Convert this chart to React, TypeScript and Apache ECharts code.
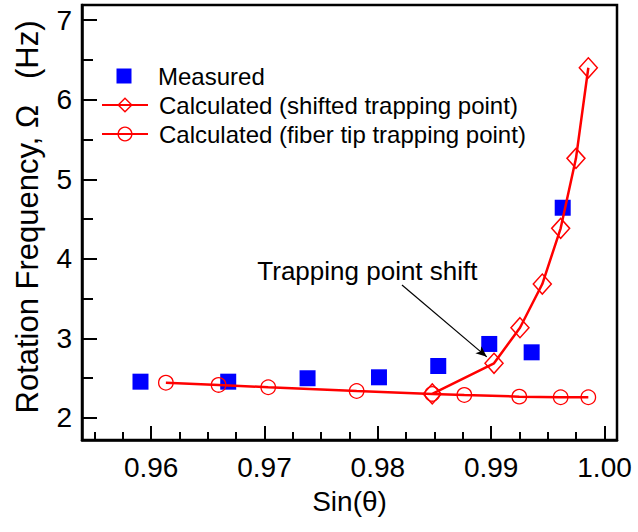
import React, { useEffect, useRef } from 'react';
import * as echarts from 'echarts';

const FONT = '"Liberation Sans", Arial, sans-serif';

// Measured data
const measuredX = [0.95906, 0.9668, 0.9738, 0.9801, 0.98533, 0.98983, 0.99357, 0.99631];
const measuredY = [2.456, 2.456, 2.499, 2.511, 2.653, 2.93, 2.825, 4.642];
// Calculated (shifted trapping point)
const shiftedX = [0.9848, 0.99025, 0.99254, 0.99451, 0.99613, 0.99748, 0.99857];
const shiftedY = [2.302, 2.687, 3.134, 3.683, 4.383, 5.263, 6.401];
// Calculated (fiber tip trapping point)
const fiberX = [0.9613, 0.96595, 0.97033, 0.97813, 0.9848, 0.98763, 0.99248, 0.99613, 0.99857];
const fiberY = [2.443, 2.415, 2.386, 2.339, 2.302, 2.289, 2.268, 2.26, 2.26];

const xMajorTicks = [0.96, 0.97, 0.98, 0.99, 1.0];
const xMinorTicks = [0.955, 0.9575, 0.9625, 0.965, 0.9675, 0.9725, 0.975, 0.9775, 0.9825, 0.985, 0.9875, 0.9925, 0.995, 0.9975];
const yMajorTicks = [2, 3, 4, 5, 6, 7];
const yMinorTicks = [2.5, 3.5, 4.5, 5.5, 6.5];

const X_MIN = 0.9539;
const X_MAX = 1.0011;
const Y_MIN = 1.723;
const Y_MAX = 7.19;

const seriesNames = ['Measured', 'Calculated (shifted trapping point)', 'Calculated (fiber tip trapping point)'];
const xName = 'Sin(θ)';
const yName = 'Rotation Frequency, Ω   (Hz)';
const annotationText = 'Trapping point shift';
const annotationAt = [0.97908, 3.847];
const arrowStart = [0.98213, 3.671];
const arrowEnd = [0.98961, 2.768];

export default function App() {
  const ref = useRef<HTMLDivElement>(null);
  useEffect(() => {
    document.body.style.margin = '0';
    const chart = echarts.init(ref.current!, undefined, { renderer: 'svg' });
    const tickStyle = { color: '#000', width: 2 };
    const legendText = { fontSize: 24, color: '#000', fontFamily: FONT, padding: [0, 0, 0, 6] };
    chart.setOption({
      animation: false,
      backgroundColor: '#fff',
      grid: {
        left: 82, right: 21, top: 5, bottom: 92,
        show: true, borderColor: '#000', borderWidth: 2.5, backgroundColor: 'transparent',
        outerBoundsMode: 'none',
      },
      xAxis: [
        {
          type: 'value', min: X_MIN, max: X_MAX, position: 'bottom',
          axisLine: { show: true, lineStyle: { color: '#000', width: 2.5 } },
          axisTick: { show: true, inside: true, length: 14, lineStyle: tickStyle, customValues: xMajorTicks },
          axisLabel: {
            show: true, customValues: xMajorTicks, margin: 13, fontSize: 28, color: '#000', fontFamily: FONT,
            formatter: (v: number) => v.toFixed(2),
          },
          splitLine: { show: false },
          name: xName, nameLocation: 'middle', nameGap: 47,
          nameTextStyle: { fontSize: 28, color: '#000', fontFamily: FONT },
        },
        {
          type: 'value', min: X_MIN, max: X_MAX, position: 'bottom',
          axisLine: { show: false },
          axisTick: { show: true, inside: true, length: 8, lineStyle: tickStyle, customValues: xMinorTicks },
          axisLabel: { show: false },
          splitLine: { show: false },
        },
      ],
      yAxis: [
        {
          type: 'value', min: Y_MIN, max: Y_MAX, position: 'left',
          axisLine: { show: true, lineStyle: { color: '#000', width: 2.5 } },
          axisTick: { show: true, inside: true, length: 15, lineStyle: tickStyle, customValues: yMajorTicks },
          axisLabel: {
            show: true, customValues: yMajorTicks, margin: 10, fontSize: 28, color: '#000', fontFamily: FONT,
            formatter: (v: number) => String(Math.round(v)),
          },
          splitLine: { show: false },
        },
        {
          type: 'value', min: Y_MIN, max: Y_MAX, position: 'left',
          axisLine: { show: false },
          axisTick: { show: true, inside: true, length: 11, lineStyle: tickStyle, customValues: yMinorTicks },
          axisLabel: { show: false },
          splitLine: { show: false },
        },
      ],
      legend: [
        {
          data: [{ name: seriesNames[0], icon: 'rect' }],
          left: 116.5, top: 64, padding: 0, itemWidth: 15, itemHeight: 15, selectedMode: false,
          textStyle: { ...legendText, padding: [0, 0, 0, 21.5] },
        },
        {
          data: [seriesNames[1]],
          left: 101, top: 93, padding: 0, itemWidth: 46, itemHeight: 17, selectedMode: false,
          itemStyle: { borderWidth: 1.4 },
          textStyle: legendText,
        },
        {
          data: [seriesNames[2]],
          left: 101, top: 122, padding: 0, itemWidth: 46, itemHeight: 17, selectedMode: false,
          itemStyle: { borderWidth: 1.4 },
          textStyle: legendText,
        },
      ],
      graphic: [
        {
          type: 'text', x: 27, y: 217, rotation: Math.PI / 2,
          style: {
            text: yName, fontSize: 31, fontFamily: FONT, fill: '#000',
            textAlign: 'center', textVerticalAlign: 'middle', align: 'center', verticalAlign: 'middle',
          },
        },
      ],
      series: [
        {
          type: 'scatter', name: seriesNames[0],
          data: measuredX.map((x, i) => [x, measuredY[i]]),
          symbol: 'rect', symbolSize: 16,
          itemStyle: { color: '#0000ff', opacity: 1 },
          z: 2,
          markLine: {
            silent: true,
            symbol: ['none', 'arrow'],
            symbolSize: [7, 11],
            lineStyle: { color: '#000', width: 1.2, type: 'solid' },
            label: { show: false },
            data: [[{ coord: arrowStart }, { coord: arrowEnd }]],
          },
          markPoint: {
            silent: true,
            data: [
              {
                coord: annotationAt, symbol: 'circle', symbolSize: 0,
                label: {
                  show: true, position: 'inside', formatter: annotationText,
                  fontSize: 26, color: '#000', fontFamily: FONT,
                },
              },
            ],
          },
        },
        {
          type: 'line', name: seriesNames[2],
          data: fiberX.map((x, i) => [x, fiberY[i]]),
          symbol: 'circle', symbolSize: 14.5,
          lineStyle: { color: '#ff0000', width: 2.5 },
          itemStyle: { color: 'rgba(255,255,255,0)', borderColor: '#ff0000', borderWidth: 1.3 },
          z: 3,
        },
        {
          type: 'line', name: seriesNames[1],
          data: shiftedX.map((x, i) => [x, shiftedY[i]]),
          symbol: 'diamond', symbolSize: [18, 20],
          lineStyle: { color: '#ff0000', width: 2.5 },
          itemStyle: { color: 'rgba(255,255,255,0)', borderColor: '#ff0000', borderWidth: 1.5 },
          z: 4,
        },
      ],
    });
    return () => chart.dispose();
  }, []);
  return <div ref={ref} style={{ width: 638, height: 532 }} />;
}
